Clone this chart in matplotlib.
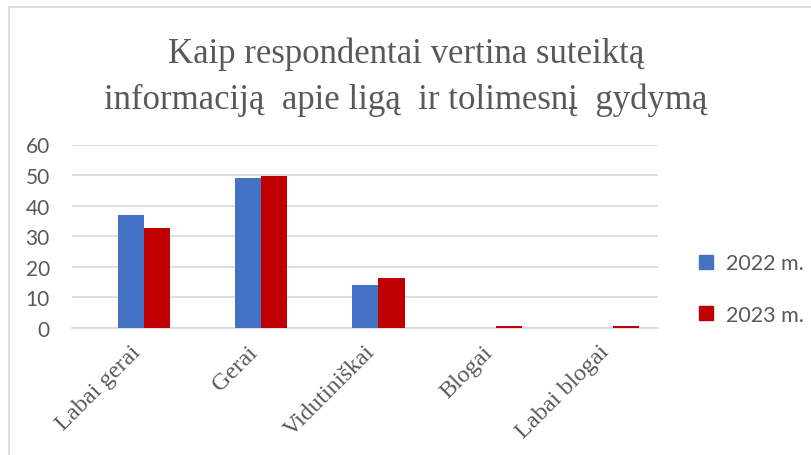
import numpy as np
import matplotlib
matplotlib.use('Agg')
import matplotlib.pyplot as plt
import matplotlib.transforms as mtransforms
from matplotlib.patches import Rectangle, Patch

categories = ['Labai gerai', 'Gerai', 'Vidutiniškai', 'Blogai', 'Labai blogai']
years = ['2022 m.', '2023 m.']
v2022 = [37, 49.1, 14, 0, 0]
v2023 = [32.8, 49.8, 16.4, 0.8, 0.8]
colors = ['#4472C4', '#C00000']
yticks = [0, 10, 20, 30, 40, 50, 60]

grey = '#595959'
serif = ['Liberation Serif', 'DejaVu Serif']
sans = ['Lato', 'DejaVu Sans']

W, H = 812, 456
fig = plt.figure(figsize=(W / 100, H / 100), dpi=100)
fig.patch.set_facecolor('white')

# light frame of the chart object
fig.patches.append(Rectangle((9 / W, -0.1), 1.2, (H - 8) / H + 0.1, transform=fig.transFigure,
                             fill=False, edgecolor='#d9d9d9', lw=1.2))

ax = fig.add_axes([72 / W, (H - 329) / H, (658 - 72) / W, (329 - 145.5) / H])
x = np.arange(len(categories))
bw = 0.222
ax.bar(x - bw / 2, v2022, bw, color=colors[0], zorder=3, label=years[0])
ax.bar(x + bw / 2, v2023, bw, color=colors[1], zorder=3, label=years[1])

ax.set_xlim(-0.614, 4.384)
ax.set_ylim(0, 60)
ax.set_yticks(yticks)
ax.yaxis.grid(True, color='#d9d9d9', lw=1.2, zorder=0)
for s in ['top', 'right', 'left']:
    ax.spines[s].set_visible(False)
ax.spines['bottom'].set_color('#d9d9d9')
ax.spines['bottom'].set_linewidth(1.2)
ax.tick_params(axis='both', length=0)
ax.tick_params(axis='y', pad=16, labelcolor=grey)
for lab in ax.get_yticklabels():
    lab.set_fontfamily(sans)
    lab.set_fontsize(15)

ax.set_xticks(x)
ax.set_xticklabels(categories, rotation=45, ha='right', rotation_mode='anchor',
                   family=serif, fontsize=17.5, color=grey)
ax.tick_params(axis='x', pad=8)
shift = mtransforms.ScaledTranslation(-14 / 100, -2 / 100, fig.dpi_scale_trans)
for lab in ax.get_xticklabels():
    lab.set_transform(lab.get_transform() + shift)

fig.text(0.5, (H - 77) / H, 'Kaip respondentai vertina suteiktą\ninformaciją  apie ligą  ir tolimesnį  gydymą',
         ha='center', va='center', family=serif, fontsize=25, color=grey, linespacing=1.5)

handles = [Patch(color=c) for c in colors]
fig.legend(handles, years, loc='center left', bbox_to_anchor=(680 / W, (H - 290) / H),
           frameon=False, handlelength=0.65, handleheight=0.65, handletextpad=0.6,
           labelspacing=1.45, prop={'family': sans, 'size': 15.5}, labelcolor=grey)

fig.savefig('out.png', dpi=100)
